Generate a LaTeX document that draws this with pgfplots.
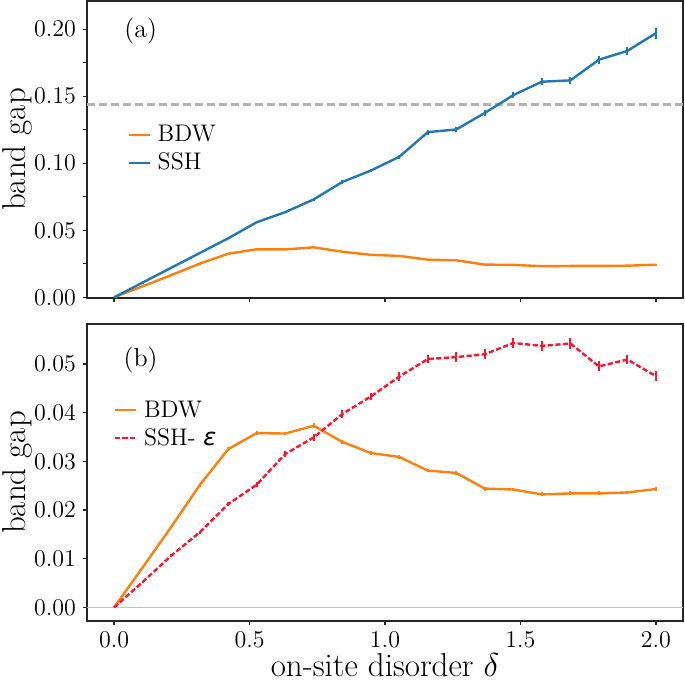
\RequirePackage{fix-cm}
\documentclass[border=0pt]{standalone}
\usepackage{fontspec}
\newfontfamily\dvs{DejaVu Sans}
\usepackage{pgfplots}
\usepackage{pgfplotstable}
\pgfplotsset{compat=1.18}
\usetikzlibrary{calc}

\definecolor{cBDW}{HTML}{FF7F0E}
\definecolor{cSSH}{HTML}{1F77B4}
\definecolor{cEps}{RGB}{255,20,45}
\definecolor{cRef}{RGB}{178,178,178}
\definecolor{cZero}{RGB}{195,195,195}

% x = on-site disorder, y = band gap, e = error
\pgfplotstableread{
x      y      e
0.0000 0.0000 0.0000
0.1053 0.0082 0.0002
0.2105 0.0165 0.0003
0.3158 0.0251 0.0003
0.4211 0.0325 0.0004
0.5263 0.0358 0.0004
0.6316 0.0357 0.0004
0.7368 0.0373 0.0005
0.8421 0.0340 0.0004
0.9474 0.0317 0.0004
1.0526 0.0309 0.0004
1.1579 0.0281 0.0004
1.2632 0.0276 0.0004
1.3684 0.0244 0.0004
1.4737 0.0242 0.0004
1.5789 0.0232 0.0004
1.6842 0.0234 0.0004
1.7895 0.0234 0.0004
1.8947 0.0236 0.0004
2.0000 0.0243 0.0004
}\bdw

\pgfplotstableread{
x      y      e
0.0000 0.0000 0.0000
0.1053 0.0110 0.0002
0.2105 0.0220 0.0003
0.3158 0.0330 0.0004
0.4211 0.0440 0.0005
0.5263 0.0560 0.0006
0.6316 0.0635 0.0008
0.7368 0.0730 0.0010
0.8421 0.0860 0.0012
0.9474 0.0945 0.0014
1.0526 0.1048 0.0016
1.1579 0.1232 0.0018
1.2632 0.1252 0.0020
1.3684 0.1375 0.0022
1.4737 0.1508 0.0025
1.5789 0.1608 0.0025
1.6842 0.1618 0.0028
1.7895 0.1772 0.0030
1.8947 0.1838 0.0030
2.0000 0.1970 0.0040
}\ssh

\pgfplotstableread{
x      y      e
0.0000 0.0000 0.0000
0.1053 0.0052 0.0002
0.2105 0.0106 0.0003
0.3158 0.0154 0.0003
0.4211 0.0212 0.0004
0.5263 0.0252 0.0005
0.6316 0.0315 0.0006
0.7368 0.0349 0.0007
0.8421 0.0397 0.0008
0.9474 0.0433 0.0008
1.0526 0.0474 0.0009
1.1579 0.0510 0.0009
1.2632 0.0514 0.0010
1.3684 0.0520 0.0010
1.4737 0.0543 0.0010
1.5789 0.0537 0.0011
1.6842 0.0542 0.0012
1.7895 0.0495 0.0010
1.8947 0.0509 0.0010
2.0000 0.0475 0.0011
}\ssheps

\pgfplotsset{
  panel/.style={
    scale only axis, width=298pt, height=148.5pt,
    xmin=-0.1, xmax=2.1,
    xtick={0,0.5,1,1.5,2},
    tick pos=left, tick align=outside,
    major tick length=2pt, minor tick length=2pt,
    every tick/.style={black!85, line width=0.6pt},
    axis line style={black!85, line width=0.6pt},
    tick label style={font=\fontsize{12}{14}\selectfont},
    yticklabel style={/pgf/number format/fixed, /pgf/number format/fixed zerofill,
      /pgf/number format/precision=2},
    xticklabel style={/pgf/number format/fixed, /pgf/number format/fixed zerofill,
      /pgf/number format/precision=1},
    scaled y ticks=false,
    ylabel={band gap},
    label style={font=\fontsize{16.5}{19}\selectfont},
    ylabel style={at={(axis description cs:-0.1035,0.5)}, anchor=base},
    legend cell align=left,
    legend style={draw=none, fill=none, font=\fontsize{12}{14}\selectfont,
      inner sep=0pt, row sep=3pt, column sep=3.5pt,
      nodes={inner sep=0pt, text height=9pt, text depth=2pt}},
    legend image code/.code={\draw[#1] (0pt,0pt) -- (10.5pt,0pt);},
  },
  ebar/.style={error bars/.cd, y dir=both, y explicit,
    error mark=none, error bar style={solid, line width=0.9pt}},
}

\begin{document}
\begin{tikzpicture}
\begin{axis}[panel, name=a,
  ymin=-0.0005, ymax=0.221,
  ytick={0,0.05,0.1,0.15,0.2}, minor ytick={0.025,0.075,0.125,0.175},
  xticklabels={},
  legend style={at={(axis description cs:0.067,0.502)}, anchor=west}]
\addplot[cRef, line width=1.1pt, dash pattern=on 4pt off 2pt, forget plot]
  coordinates {(-0.1,0.1438) (2.1,0.1438)};
\addplot[cBDW, line width=1.2pt, ebar] table[x=x, y=y, y error=e] {\bdw};
\addlegendentry{BDW}
\addplot[cSSH, line width=1.2pt, ebar] table[x=x, y=y, y error=e] {\ssh};
\addlegendentry{SSH}
\node[font=\fontsize{13}{15}\selectfont] at (axis description cs:0.09,0.9) {(a)};
\end{axis}

\begin{axis}[panel, name=b, at={(a.south west)}, anchor=north west, yshift=-13pt,
  ymin=-0.0028, ymax=0.0582,
  ytick={0,0.01,0.02,0.03,0.04,0.05},
  xlabel={on-site disorder $\delta$},
  xlabel style={at={(axis description cs:0.5,-0.187)}, anchor=base},
  legend style={at={(axis description cs:0.044,0.663)}, anchor=west}]
\addplot[cZero, line width=0.6pt, forget plot]
  coordinates {(-0.1,0) (2.1,0)};
\addplot[cBDW, line width=1.2pt, ebar] table[x=x, y=y, y error=e] {\bdw};
\addlegendentry{BDW}
\addplot[cEps, line width=1.2pt, dash pattern=on 2.6pt off 1.2pt, ebar]
  table[x=x, y=y, y error=e] {\ssheps};
\addlegendentry{SSH- {\dvs\itshape ε}}
\node[font=\fontsize{13}{15}\selectfont] at (axis description cs:0.09,0.88) {(b)};
\end{axis}
\pgfresetboundingbox
\path[use as bounding box] ($(a.north west)+(-43.5pt,0.5pt)$) rectangle ++(342.5pt,-341.5pt);
\end{tikzpicture}
\end{document}
